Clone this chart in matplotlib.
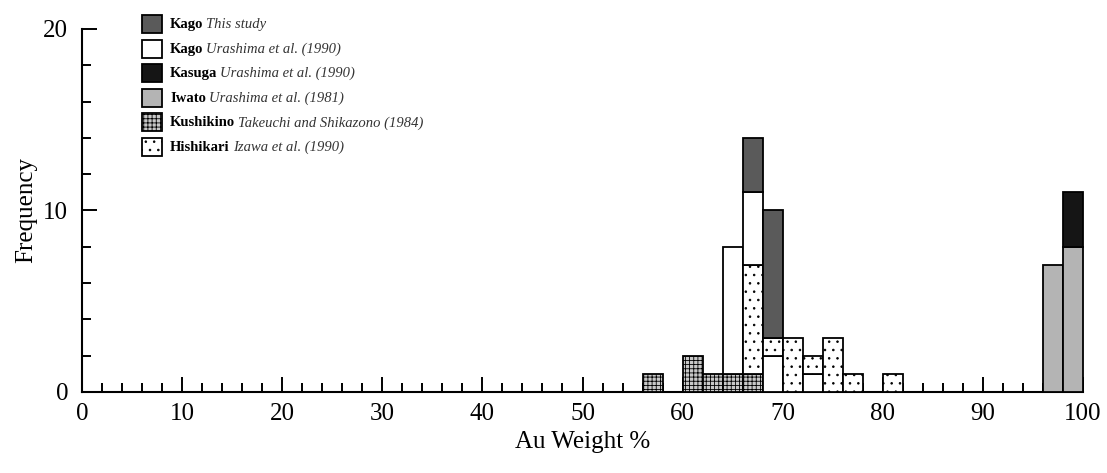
import numpy as np
import matplotlib
matplotlib.use("Agg")
import matplotlib.pyplot as plt
from matplotlib.patches import Rectangle

plt.rcParams['font.family'] = ['Liberation Serif', 'DejaVu Serif']
plt.rcParams['hatch.linewidth'] = 0.6

# bin left edges (width 2 wt%)
bin_left = [56, 60, 62, 64, 66, 68, 70, 72, 74, 76, 80, 96, 98]
bin_width = 2

# counts per bin for each data set
kushikino     = [1, 2, 1, 1, 1, 0, 0, 0, 0, 0, 0, 0, 0]
hishikari     = [0, 0, 0, 0, 6, 1, 3, 1, 3, 1, 1, 0, 0]
kago_urashima = [0, 0, 0, 7, 4, 2, 0, 1, 0, 0, 0, 0, 0]
kago_study    = [0, 0, 0, 0, 3, 7, 0, 0, 0, 0, 0, 0, 0]
iwato         = [0, 0, 0, 0, 0, 0, 0, 0, 0, 0, 0, 7, 8]
kasuga        = [0, 0, 0, 0, 0, 0, 0, 0, 0, 0, 0, 0, 3]

series = {
    'kago_study':    dict(data=kago_study, fc='#5a5a5a', hatch=None,
                          name='Kago', ref='This study'),
    'kago_urashima': dict(data=kago_urashima, fc='white', hatch=None,
                          name='Kago', ref='Urashima et al. (1990)'),
    'kasuga':        dict(data=kasuga, fc='#151515', hatch=None,
                          name='Kasuga', ref='Urashima et al. (1990)'),
    'iwato':         dict(data=iwato, fc='#b4b4b4', hatch=None,
                          name='Iwato', ref='Urashima et al. (1981)'),
    'kushikino':     dict(data=kushikino, fc='#c8c8c8', hatch='++++',
                          name='Kushikino', ref='Takeuchi and Shikazono (1984)'),
    'hishikari':     dict(data=hishikari, fc='white', hatch='..',
                          name='Hishikari', ref='Izawa et al. (1990)'),
}

# stacking order (bottom to top); two bins put Urashima's Kago below Hishikari
default_order = ['kushikino', 'hishikari', 'kago_urashima', 'kago_study', 'iwato', 'kasuga']
alt_order = ['kushikino', 'kago_urashima', 'hishikari', 'kago_study', 'iwato', 'kasuga']
alt_bins = [68, 72]

W, H = 1107, 473
fig = plt.figure(figsize=(W / 100, H / 100), dpi=100)
ax = fig.add_axes([82 / W, 1 - 392 / H, 1001 / W, 363 / H])

for i, x in enumerate(bin_left):
    order = alt_order if x in alt_bins else default_order
    bottom = 0
    for key in order:
        s = series[key]
        h = s['data'][i]
        if h == 0:
            continue
        ax.bar(x, h, width=bin_width, bottom=bottom, align='edge',
               facecolor=s['fc'], edgecolor='black', linewidth=1.3,
               hatch=s['hatch'], clip_on=False, zorder=3)
        bottom += h

ax.set_xlim(0, 100)
ax.set_ylim(0, 20)
for side in ['top', 'right']:
    ax.spines[side].set_visible(False)
for side in ['left', 'bottom']:
    ax.spines[side].set_linewidth(1.5)

ax.set_xticks(np.arange(0, 101, 10))
ax.set_xticks(np.arange(0, 101, 2), minor=True)
ax.set_yticks([0, 10, 20])
ax.set_yticks(np.arange(0, 21, 2), minor=True)
ax.tick_params(which='major', direction='in', length=11, width=1.4, labelsize=18, pad=8)
ax.tick_params(which='minor', direction='in', length=6.5, width=1.4)
ax.tick_params(axis='y', which='major', pad=10)

ax.set_xlabel('Au Weight %', fontsize=18, labelpad=4)
ax.set_ylabel('Frequency', fontsize=18, labelpad=4)

# legend drawn by hand: bold site name followed by italic reference
renderer = fig.canvas.get_renderer()
row_y = 24
for s in series.values():
    fig.patches.append(Rectangle((142 / W, 1 - (row_y + 9) / H), 20 / W, 18 / H,
                                 transform=fig.transFigure, facecolor=s['fc'],
                                 edgecolor='black', linewidth=1.3, hatch=s['hatch']))
    t = fig.text(170 / W, 1 - (row_y + 4) / H, s['name'], fontsize=10.5, fontweight='bold',
                 va='baseline', ha='left')
    bb = t.get_window_extent(renderer)
    fig.text((bb.x1 + 3) / W, 1 - (row_y + 4) / H, s['ref'], fontsize=10.5, style='italic',
             va='baseline', ha='left', color='#333333')
    row_y += 24.6

fig.savefig('out.png', dpi=100)
